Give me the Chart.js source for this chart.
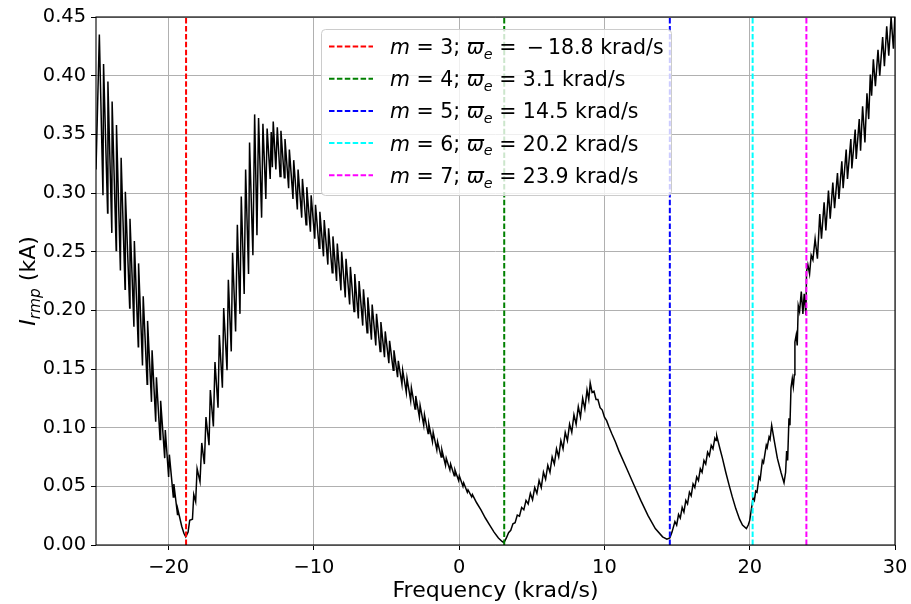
<!DOCTYPE html>
<html>
<head>
<meta charset="utf-8">
<script src="https://cdn.jsdelivr.net/npm/chart.js@4.4.0/dist/chart.umd.min.js"></script>
<style>
  html, body { margin: 0; padding: 0; background: #fff; }
  #wrap { width: 911px; height: 604px; }
</style>
</head>
<body>
<div id="wrap"><canvas id="c" width="911" height="604"></canvas></div>
<script>
// current amplitude I_rmp (kA) vs frequency (krad/s), segment by segment
const dipLeft = [
  [-25.00,0.320],[-24.77,0.435],[-24.52,0.298],[-24.48,0.410],[-24.20,0.283],[-24.18,0.395],
  [-23.91,0.266],[-23.89,0.378],[-23.61,0.251],[-23.59,0.358],[-23.32,0.234],[-23.27,0.330],
  [-23.00,0.218],[-22.98,0.301],[-22.68,0.202],[-22.66,0.278],[-22.39,0.186],[-22.36,0.259],
  [-22.09,0.169],[-22.07,0.240],[-21.80,0.153],[-21.75,0.212],[-21.48,0.137],[-21.45,0.191],
  [-21.18,0.122],[-21.14,0.166],[-20.89,0.105],[-20.84,0.143],[-20.59,0.090],[-20.55,0.123],
  [-20.27,0.074],[-20.23,0.098],[-20.00,0.058],[-19.95,0.077],[-19.68,0.041],[-19.64,0.052],
  [-19.39,0.026],[-19.36,0.030],[-19.10,0.016],[-18.95,0.010],[-18.82,0.007]
];
const riseToPeak = [
  [-18.66,0.011],[-18.55,0.021],[-18.36,0.022],[-18.27,0.043],[-18.14,0.037],[-18.04,0.065],
  [-17.84,0.054],[-17.72,0.087],[-17.54,0.069],[-17.43,0.109],[-17.22,0.085],[-17.13,0.132],
  [-16.92,0.101],[-16.81,0.156],[-16.60,0.117],[-16.51,0.179],[-16.30,0.134],[-16.21,0.202],
  [-15.98,0.149],[-15.89,0.226],[-15.69,0.165],[-15.60,0.249],[-15.39,0.182],[-15.27,0.273],
  [-15.09,0.197],[-15.00,0.297],[-14.80,0.214],[-14.70,0.320],[-14.50,0.231],[-14.43,0.343],
  [-14.20,0.247],[-14.08,0.367]
];
const peakTop = [
  [-13.92,0.264],[-13.81,0.364],[-13.60,0.279],[-13.51,0.359],[-13.31,0.295],[-13.22,0.355],
  [-13.01,0.312],[-12.94,0.352],[-12.86,0.322],[-12.80,0.361],[-12.62,0.320],[-12.52,0.356],
  [-12.33,0.314],[-12.27,0.353]
];
const slopeDown = [
  [-12.04,0.313],[-11.99,0.346],[-11.74,0.304],[-11.69,0.337],[-11.44,0.295],[-11.39,0.328],
  [-11.14,0.286],[-11.09,0.320],[-10.84,0.279],[-10.79,0.312],[-10.54,0.273],[-10.49,0.305],
  [-10.24,0.267],[-10.19,0.298],[-9.94,0.261],[-9.89,0.290],[-9.64,0.253],[-9.59,0.284],
  [-9.34,0.246],[-9.29,0.277],[-9.04,0.239],[-8.99,0.270],[-8.74,0.232],[-8.69,0.263],
  [-8.44,0.225],[-8.39,0.257],[-8.14,0.217],[-8.09,0.250],[-7.84,0.211],[-7.79,0.244],
  [-7.54,0.205],[-7.49,0.237],[-7.24,0.199],[-7.19,0.231],[-6.94,0.193],[-6.89,0.225],
  [-6.64,0.187],[-6.59,0.218],[-6.34,0.181],[-6.29,0.211],[-6.04,0.175],[-5.99,0.205],
  [-5.74,0.170],[-5.69,0.197],[-5.44,0.165],[-5.39,0.190],[-5.14,0.160],[-5.09,0.182],
  [-4.84,0.155],[-4.79,0.174],[-4.54,0.149],[-4.49,0.166],[-4.24,0.143],[-4.19,0.157],
  [-3.94,0.137],[-3.89,0.149],[-3.64,0.130],[-3.59,0.142],[-3.34,0.123],[-3.29,0.134],
  [-3.04,0.116],[-2.99,0.127],[-2.74,0.109],[-2.69,0.119],[-2.44,0.102],[-2.39,0.111],
  [-2.14,0.095],[-2.09,0.103],[-1.84,0.088],[-1.79,0.096],[-1.54,0.081],[-1.49,0.088],
  [-1.24,0.075],[-1.19,0.081],[-0.94,0.068],[-0.89,0.074],[-0.64,0.064],[-0.59,0.069],
  [-0.34,0.059],[-0.29,0.064],[-0.04,0.055],[0.01,0.059],[0.26,0.050],[0.31,0.053],
  [0.56,0.045],[0.61,0.047],[0.86,0.041],[0.91,0.043],
  [1.20,0.036],[1.50,0.030],[1.80,0.023],[2.10,0.017],[2.40,0.011],[2.70,0.006],
  [2.95,0.003],[3.08,0.002]
];
const midHump = [
  [3.25,0.006],[3.40,0.0105],[3.55,0.0125],[3.70,0.018],[3.85,0.019],[4.00,0.0255],
  [4.15,0.0245],[4.30,0.032],[4.45,0.030],[4.60,0.038],[4.75,0.035],[4.90,0.044],
  [5.05,0.0385],[5.20,0.049],[5.35,0.044],[5.50,0.055],[5.65,0.049],[5.80,0.062],
  [5.95,0.056],[6.10,0.068],[6.25,0.062],[6.40,0.075],[6.55,0.069],[6.70,0.082],
  [6.85,0.075],[7.00,0.089],[7.15,0.082],[7.30,0.096],[7.45,0.089],[7.60,0.103],
  [7.75,0.096],[7.90,0.111],[8.05,0.103],[8.20,0.118],[8.35,0.109],[8.50,0.125],
  [8.65,0.116],[8.80,0.132],[8.92,0.124],[9.02,0.138],
  [9.15,0.130],[9.28,0.131],[9.42,0.124],[9.55,0.124],[9.70,0.117],[9.85,0.115],
  [10.00,0.109],[10.15,0.106],[10.30,0.101],[10.50,0.095],[10.75,0.088],[11.00,0.080],
  [11.50,0.066],[12.00,0.052],[12.50,0.038],[13.00,0.025],[13.50,0.014],[14.00,0.007],
  [14.30,0.005],[14.50,0.006]
];
const smallHumps = [
  [14.65,0.011],[14.85,0.020],[14.97,0.017],[15.10,0.026],[15.22,0.023],[15.35,0.032],
  [15.47,0.028],[15.60,0.038],[15.72,0.035],[15.85,0.045],[15.97,0.042],[16.10,0.052],
  [16.22,0.049],[16.35,0.058],[16.47,0.055],[16.60,0.065],[16.72,0.062],[16.85,0.072],
  [16.97,0.069],[17.10,0.079],[17.22,0.076],[17.35,0.085],[17.47,0.082],[17.60,0.091],
  [17.68,0.089],[17.73,0.093],
  [17.95,0.082],[18.12,0.074],[18.35,0.062],[18.58,0.051],[18.80,0.041],[19.04,0.031],
  [19.30,0.022],[19.50,0.017],[19.77,0.014],[19.90,0.017],[20.00,0.021],[20.12,0.031],
  [20.23,0.040],[20.32,0.038],[20.41,0.046],[20.50,0.045],[20.64,0.058],[20.72,0.056],
  [20.87,0.072],[20.95,0.070],[21.14,0.085],[21.20,0.083],[21.33,0.092],[21.40,0.090],
  [21.51,0.102],[21.70,0.088],[21.90,0.074],[22.15,0.062],[22.36,0.053]
];
const steps = [
  [22.47,0.062],[22.54,0.080],[22.61,0.072],[22.70,0.108],[22.77,0.102],[22.84,0.134],
  [22.93,0.142],[23.00,0.135],[23.07,0.145],[23.11,0.173],[23.20,0.179],[23.27,0.170],
  [23.34,0.204],[23.43,0.199],[23.55,0.216],[23.66,0.197],[23.75,0.214],[23.87,0.196],
  [23.91,0.233],[24.00,0.239],[24.12,0.231],[24.23,0.247],[24.35,0.243]
];
const riseRight = [
  [24.50,0.261],[24.66,0.244],[24.82,0.282],[24.94,0.261],[25.12,0.292],[25.24,0.268],
  [25.42,0.302],[25.54,0.278],[25.72,0.309],[25.84,0.287],[26.04,0.317],[26.14,0.295],
  [26.34,0.327],[26.43,0.304],[26.64,0.337],[26.73,0.312],[26.96,0.346],[27.03,0.321],
  [27.26,0.354],[27.33,0.329],[27.54,0.363],[27.63,0.336],[27.77,0.374],[27.93,0.343],
  [28.07,0.385],[28.19,0.363],[28.30,0.401],[28.39,0.383],[28.51,0.414],[28.65,0.391],
  [28.83,0.422],[28.95,0.400],[29.15,0.433],[29.27,0.408],[29.43,0.442],[29.57,0.417],
  [29.73,0.450],[29.89,0.423],[30.00,0.453]
];

// resonance markers
const markModes = [3, 4, 5, 6, 7];
const markFreqs = [-18.8, 3.1, 14.5, 20.2, 23.9];
const markColors = ['#ff0000', '#008000', '#0000ff', '#00ffff', '#ff00ff'];

const xTicks = [-20, -10, 0, 10, 20, 30];
const yTicks = [0, 0.05, 0.10, 0.15, 0.20, 0.25, 0.30, 0.35, 0.40, 0.45];

const curve = [].concat(dipLeft, riseToPeak, peakTop, slopeDown, midHump, smallHumps, steps, riseRight)
  .map(p => ({ x: p[0], y: p[1] }));

const FONT = "'DejaVu Sans', sans-serif";
Chart.defaults.font.family = FONT;
Chart.defaults.font.size = 19.4;
Chart.defaults.color = '#000';

// draws a run of text pieces, some italic / subscript (the mathtext bits)
// a piece may carry a "gap" (extra px before it)
function drawRich(ctx, x, y, parts, size) {
  let cx = x;
  parts.forEach(p => {
    cx += p.gap || 0;
    const s = p.sub ? size * 0.7 : size;
    ctx.font = (p.it ? 'italic ' : '') + s + 'px ' + FONT;
    ctx.fillText(p.t, cx, p.sub ? y + size * 0.23 : y);
    cx += ctx.measureText(p.t).width;
  });
  return cx - x;
}
function richWidth(ctx, parts, size) {
  let w = 0;
  parts.forEach(p => {
    ctx.font = (p.it ? 'italic ' : '') + (p.sub ? size * 0.7 : size) + 'px ' + FONT;
    w += ctx.measureText(p.t).width + (p.gap || 0);
  });
  return w;
}

const decor = {
  id: 'decor',
  afterDraw(chart) {
    const ctx = chart.ctx;
    const a = chart.chartArea;
    ctx.save();
    // frame
    ctx.strokeStyle = '#000';
    ctx.lineWidth = 1.1;
    ctx.strokeRect(a.left, a.top, a.right - a.left, a.bottom - a.top);

    ctx.fillStyle = '#000';
    ctx.textBaseline = 'alphabetic';
    // x title
    ctx.textAlign = 'center';
    ctx.font = '22px ' + FONT;
    ctx.fillText('Frequency (krad/s)', (a.left + a.right) / 2, 597);

    // y title
    ctx.textAlign = 'left';
    const yt = [{ t: 'I', it: true }, { t: 'rmp', it: true, sub: true }, { t: ' (kA)' }];
    ctx.save();
    ctx.translate(35, (a.top + a.bottom) / 2);
    ctx.rotate(-Math.PI / 2);
    drawRich(ctx, -richWidth(ctx, yt, 22) / 2, 0, yt, 22);
    ctx.restore();

    // legend
    const bx = 321.5, by = 29.5, bw = 350, bh = 166;
    ctx.beginPath();
    ctx.roundRect(bx, by, bw, bh, 4);
    ctx.fillStyle = 'rgba(255,255,255,0.8)';
    ctx.fill();
    ctx.strokeStyle = '#cccccc';
    ctx.lineWidth = 1;
    ctx.stroke();
    markFreqs.forEach((f, i) => {
      const y = 46.5 + i * 32.2;
      ctx.setLineDash([5.5, 2.4]);
      ctx.strokeStyle = markColors[i];
      ctx.lineWidth = 2;
      ctx.beginPath();
      ctx.moveTo(329, y);
      ctx.lineTo(373, y);
      ctx.stroke();
      ctx.setLineDash([]);
      ctx.fillStyle = '#000';
      const parts = [
        { t: 'm', it: true }, { t: ' = ' + markModes[i] + '; ' },
        { t: '\u03d6', it: true }, { t: 'e', it: true, sub: true }, { t: ' = ' }
      ];
      if (f < 0) {
        parts.push({ t: '\u2212', gap: 4 });
        parts.push({ t: Math.abs(f).toFixed(1) + ' krad/s', gap: 4 });
      } else {
        parts.push({ t: f.toFixed(1) + ' krad/s' });
      }
      drawRich(ctx, 390, y + 7.5, parts, 20.5);
    });
    ctx.restore();
  }
};

const datasets = markFreqs.map((f, i) => ({
  data: [{ x: f, y: 0 }, { x: f, y: 0.45 }],
  borderColor: markColors[i],
  borderWidth: 2,
  borderDash: [5.5, 2.4],
  pointRadius: 0,
  order: 1
}));
datasets.push({
  data: curve,
  borderColor: '#000',
  borderWidth: 1.5,
  pointRadius: 0,
  tension: 0,
  order: 2
});

new Chart(document.getElementById('c'), {
  type: 'line',
  data: { datasets },
  plugins: [decor],
  options: {
    responsive: false,
    devicePixelRatio: 1,
    animation: false,
    layout: { padding: { top: 17, right: 16, left: 0, bottom: 0 } },
    plugins: { legend: { display: false }, tooltip: { enabled: false } },
    scales: {
      x: {
        type: 'linear', min: -25, max: 30,
        afterBuildTicks: s => { s.ticks = xTicks.map(v => ({ value: v })); },
        afterFit: s => { s.height = 59; s.paddingLeft = 0; s.paddingRight = 0; },
        grid: { color: '#b0b0b0', lineWidth: 1, tickColor: '#000', tickLength: 5 },
        border: { display: false },
        ticks: { padding: 6, maxRotation: 0, callback: v => v < 0 ? '\u2212' + Math.abs(v) : String(v) }
      },
      y: {
        type: 'linear', min: 0, max: 0.45,
        afterBuildTicks: s => { s.ticks = yTicks.map(v => ({ value: v })); },
        afterFit: s => { s.width = 96; s.paddingTop = 0; s.paddingBottom = 0; },
        grid: { color: '#b0b0b0', lineWidth: 1, tickColor: '#000', tickLength: 5 },
        border: { display: false },
        ticks: { padding: 5, callback: v => v.toFixed(2) }
      }
    }
  }
});
</script>
</body>
</html>
